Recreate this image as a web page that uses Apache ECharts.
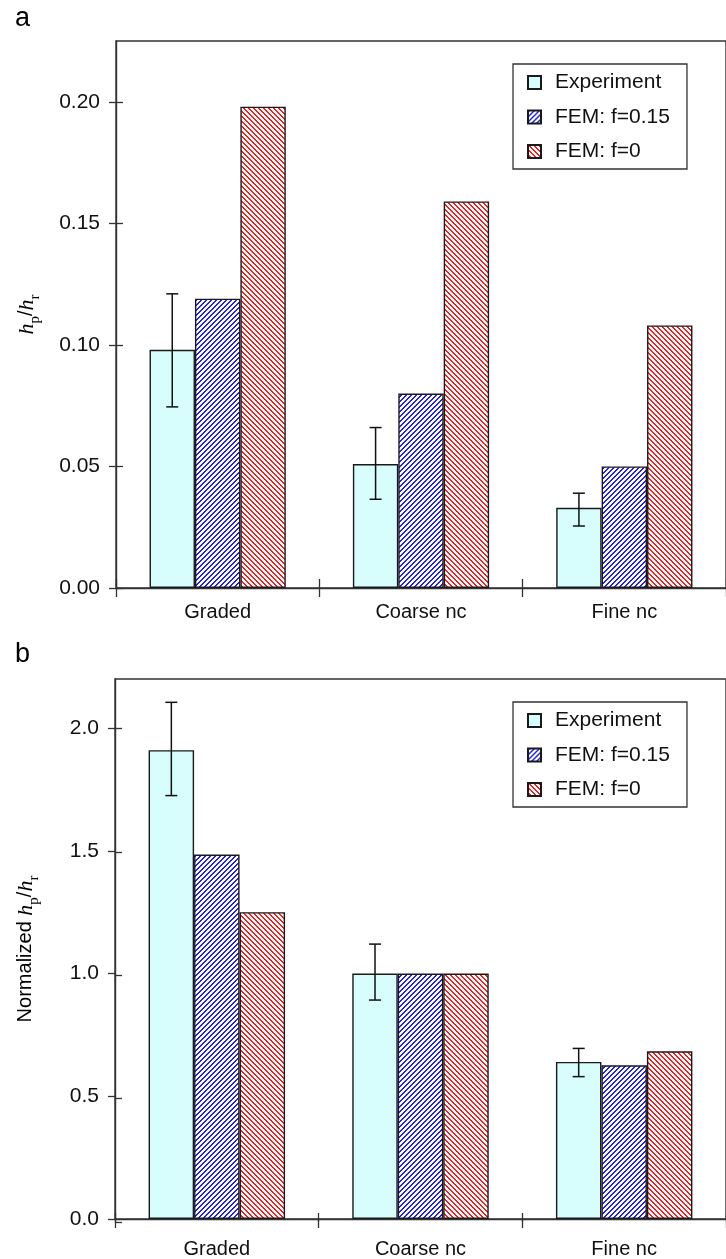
<!DOCTYPE html>
<html>
<head>
<meta charset="utf-8">
<title>Pile-up ratio h_p/h_r</title>
<script src="https://cdn.jsdelivr.net/npm/echarts@6/dist/echarts.min.js"></script>
<style>
  html, body { margin: 0; padding: 0; background: #fff; }
  #chart { width: 726px; height: 1259px; }
</style>
</head>
<body>
<div id="chart"></div>
<script>
// ---- data ----------------------------------------------------------------
const categories = ['Graded', 'Coarse nc', 'Fine nc'];
const seriesNames = ['Experiment', 'FEM: f=0.15', 'FEM: f=0'];

// (a) absolute pile-up ratio
const experimentA = [0.098, 0.051, 0.033];
const experimentLowA = [0.0745, 0.0365, 0.0255];
const experimentHighA = [0.121, 0.066, 0.039];
const femF015A = [0.119, 0.080, 0.050];
const femF0A = [0.198, 0.159, 0.108];
const ticksA = [0, 0.05, 0.10, 0.15, 0.20];

// (b) ratio normalized by the coarse nc value
const experimentB = [1.91, 1.0, 0.64];
const experimentLowB = [1.725, 0.892, 0.58];
const experimentHighB = [2.105, 1.12, 0.695];
const femF015B = [1.485, 1.0, 0.626];
const femF0B = [1.25, 1.0, 0.683];
const ticksB = [0, 0.5, 1.0, 1.5, 2.0];

// ---- styling helpers -------------------------------------------------------
const FONT = '"Liberation Sans", Arial, sans-serif';
const SERIF = '"Liberation Serif", "Times New Roman", serif';
const AXIS_COLOR = '#333';
const BAR_GAP = 0.33;        // barCategoryGap as a fraction
const N_BARS = 3;

// diagonal hatch tile: dir = 1 draws '/', dir = -1 draws '\'
function hatch(color, dir) {
  const n = 5;
  const c = document.createElement('canvas');
  c.width = n; c.height = n;
  const ctx = c.getContext('2d');
  ctx.fillStyle = '#fff';
  ctx.fillRect(0, 0, n, n);
  ctx.fillStyle = color;
  for (let y = 0; y < n; y++) {
    for (let x = 0; x < n; x++) {
      const k = ((dir > 0 ? x + y : x - y) % n + n) % n;
      if (k === 0 || k === 1) ctx.fillRect(x, y, 1, 1);
    }
  }
  return { image: c, repeat: 'repeat' };
}
const blueHatch = hatch('#2020f4', 1);
const redHatch = hatch('#f42020', -1);
const cyanFill = '#d7fdfd';
const fills = [cyanFill, blueHatch, redHatch];

function errorBarRenderer(params, api) {
  const cat = api.value(0);
  const lo = api.coord([cat, api.value(1)]);
  const hi = api.coord([cat, api.value(2)]);
  const band = api.size([1, 0])[0];
  const bw = band * (1 - BAR_GAP) / N_BARS;
  const x = lo[0] - bw;   // centre of the first (Experiment) bar
  const cap = 6;
  const style = { stroke: '#111', lineWidth: 1.5 };
  return {
    type: 'group',
    children: [
      { type: 'line', shape: { x1: x, y1: lo[1], x2: x, y2: hi[1] }, style },
      { type: 'line', shape: { x1: x - cap, y1: hi[1], x2: x + cap, y2: hi[1] }, style },
      { type: 'line', shape: { x1: x - cap, y1: lo[1], x2: x + cap, y2: lo[1] }, style }
    ]
  };
}

const nameRich = {
  n: { fontFamily: FONT, fontSize: 20, color: '#000', lineHeight: 20, verticalAlign: 'top' },
  i: { fontFamily: SERIF, fontStyle: 'italic', fontSize: 22, color: '#000', lineHeight: 20, verticalAlign: 'top' },
  s: { fontFamily: SERIF, fontSize: 15, color: '#000', lineHeight: 14, padding: [12, 0, 0, 0], verticalAlign: 'top' }
};

const panelRects = [
  { left: 116, top: 41, right: -7, height: 547 },
  { left: 115, top: 679, right: -7, height: 543 }
];
// grids 0,1 carry the bars; grids 2,3 sit on top of them and only add inner tick halves
const grids = panelRects.map(g => Object.assign({ show: true, borderColor: AXIS_COLOR, borderWidth: 1.4 }, g))
  .concat(panelRects.map(g => Object.assign({ show: false }, g)));

const tickLine = { color: AXIS_COLOR, width: 1.3 };

function xAxisMain(gridIndex, margin) {
  return {
    type: 'category', data: categories, gridIndex, position: 'bottom',
    axisLine: { lineStyle: { color: AXIS_COLOR, width: 1.4 } },
    axisTick: { show: true, inside: false, length: 9, lineStyle: tickLine },
    axisLabel: { fontFamily: FONT, fontSize: 20, color: '#111', margin },
    splitLine: { show: false }
  };
}
function xAxisInner(gridIndex) {
  return {
    type: 'category', data: categories, gridIndex, position: 'bottom',
    axisLine: { show: false },
    axisTick: { show: true, inside: true, length: 9, lineStyle: tickLine },
    axisLabel: { show: false }, splitLine: { show: false }
  };
}
function yAxisMain(gridIndex, max, ticks, digits, nameText) {
  return {
    type: 'value', gridIndex, min: 0, max, position: 'left',
    axisLine: { show: true, lineStyle: { color: AXIS_COLOR, width: 1.4 } },
    axisTick: { show: true, inside: false, length: 7, customValues: ticks, lineStyle: tickLine },
    axisLabel: {
      fontFamily: FONT, fontSize: 21, color: '#111', margin: 16,
      customValues: ticks, formatter: v => v.toFixed(digits)
    },
    splitLine: { show: false },
    name: nameText, nameLocation: 'middle', nameRotate: 90, nameGap: 80,
    nameTextStyle: { rich: nameRich }
  };
}
function yAxisInner(gridIndex, max, ticks) {
  return {
    type: 'value', gridIndex, min: 0, max, position: 'left',
    axisLine: { show: false },
    axisTick: { show: true, inside: true, length: 7, customValues: ticks, lineStyle: tickLine },
    axisLabel: { show: false, customValues: ticks },
    splitLine: { show: false }
  };
}

function panelSeries(gridIdx, values, low, high) {
  const bars = values.map((vals, k) => ({
    name: seriesNames[k], type: 'bar', xAxisIndex: gridIdx, yAxisIndex: gridIdx,
    data: vals, barGap: 0, barCategoryGap: (BAR_GAP * 100) + '%',
    itemStyle: { color: fills[k], borderColor: '#1a1a1a', borderWidth: 1.4 },
    emphasis: { disabled: true }, animation: false
  }));
  bars.push({
    name: 'error', type: 'custom', xAxisIndex: gridIdx, yAxisIndex: gridIdx,
    data: low.map((v, i) => [i, v, high[i]]),
    encode: { x: 0, y: [1, 2] }, renderItem: errorBarRenderer,
    clip: false, z: 5, animation: false, silent: true
  });
  return bars;
}

function legend(top) {
  return {
    data: seriesNames, orient: 'vertical', left: 513, top,
    backgroundColor: '#fff', borderColor: '#333', borderWidth: 1.3,
    padding: [8, 17, 7, 14], itemGap: 13.5, itemWidth: 13, itemHeight: 13,
    icon: 'rect', selectedMode: false,
    textStyle: { fontFamily: FONT, fontSize: 21, color: '#111', lineHeight: 21, padding: [0, 0, 0, 9] }
  };
}

const chart = echarts.init(document.getElementById('chart'), null, { renderer: 'canvas' });
chart.setOption({
  backgroundColor: '#fff',
  animation: false,
  title: [
    { text: 'a', left: 10, top: 0, textStyle: { fontFamily: FONT, fontSize: 27, fontWeight: 'normal', color: '#000' } },
    { text: 'b', left: 10, top: 636, textStyle: { fontFamily: FONT, fontSize: 27, fontWeight: 'normal', color: '#000' } }
  ],
  legend: [legend(64), legend(702)],
  grid: grids,
  xAxis: [xAxisMain(0, 14), xAxisMain(1, 20), xAxisInner(2), xAxisInner(3)],
  yAxis: [
    yAxisMain(0, 0.225, ticksA, 2, '{i|h}{s|p}{n|/}{i|h}{s|r}'),
    yAxisMain(1, 2.2, ticksB, 1, '{n|Normalized }{i|h}{s|p}{n|/}{i|h}{s|r}'),
    yAxisInner(2, 0.225, ticksA),
    yAxisInner(3, 2.2, ticksB)
  ],
  series: panelSeries(0, [experimentA, femF015A, femF0A], experimentLowA, experimentHighA)
    .concat(panelSeries(1, [experimentB, femF015B, femF0B], experimentLowB, experimentHighB))
});
</script>
</body>
</html>
